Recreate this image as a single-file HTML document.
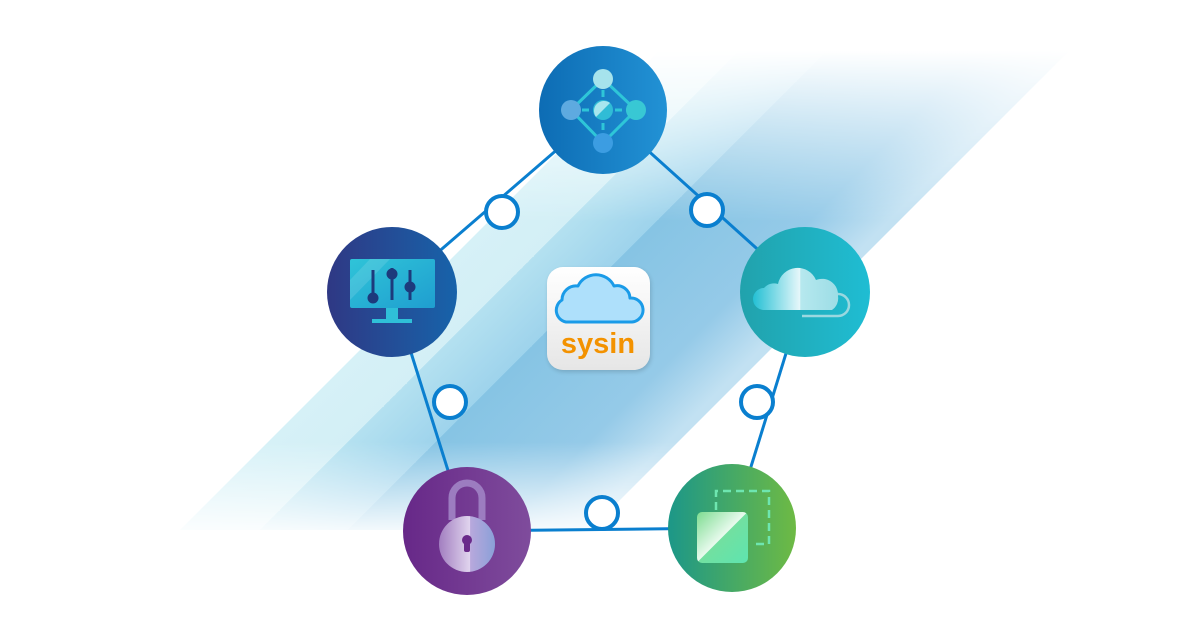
<!DOCTYPE html>
<html><head><meta charset="utf-8"><style>
html,body{margin:0;padding:0;background:#fff;}
svg{display:block;}
</style></head><body>
<svg width="1200" height="640" viewBox="0 0 1200 640" xmlns="http://www.w3.org/2000/svg">
<defs>
<linearGradient id="band" gradientUnits="userSpaceOnUse" x1="355" y1="355" x2="555" y2="555">
<stop offset="0" stop-color="#d6f1f7"/><stop offset="0.2" stop-color="#d3eff6"/>
<stop offset="0.2" stop-color="#b4e1f0"/><stop offset="0.42" stop-color="#9ed3ec"/>
<stop offset="0.42" stop-color="#86c4e4"/><stop offset="0.8" stop-color="#95cae8"/>
<stop offset="1" stop-color="#c2e1f2"/>
</linearGradient>
<linearGradient id="vfade" gradientUnits="userSpaceOnUse" x1="0" y1="50" x2="0" y2="540">
<stop offset="0" stop-color="#fff" stop-opacity="0"/>
<stop offset="0.35" stop-color="#fff" stop-opacity="1"/>
<stop offset="0.8" stop-color="#fff" stop-opacity="1"/>
<stop offset="1" stop-color="#fff" stop-opacity="0"/>
</linearGradient>
<mask id="m" maskUnits="userSpaceOnUse" x="0" y="0" width="1200" height="640"><rect x="0" y="50" width="1200" height="490" fill="url(#vfade)"/></mask>
<linearGradient id="gTop" x1="0" x2="1"><stop offset="0" stop-color="#0d6cb4"/><stop offset="1" stop-color="#2292d5"/></linearGradient>
<linearGradient id="gLeft" x1="0" x2="1"><stop offset="0" stop-color="#2f3884"/><stop offset="1" stop-color="#1763aa"/></linearGradient>
<linearGradient id="gRight" x1="0" x2="1"><stop offset="0" stop-color="#21a2ac"/><stop offset="1" stop-color="#1fbdd3"/></linearGradient>
<linearGradient id="gLock" x1="0" x2="1"><stop offset="0" stop-color="#672888"/><stop offset="1" stop-color="#7f4c9c"/></linearGradient>
<linearGradient id="gGreen" x1="0" x2="1"><stop offset="0" stop-color="#1c9788"/><stop offset="1" stop-color="#6eba44"/></linearGradient>
<linearGradient id="gIcon" x1="0" x2="0" y1="0" y2="1"><stop offset="0" stop-color="#ffffff"/><stop offset="1" stop-color="#e6e6e6"/></linearGradient>
<linearGradient id="gScreen" x1="0" y1="0" x2="1" y2="1"><stop offset="0" stop-color="#2fc4d8"/><stop offset="1" stop-color="#1f9ed0"/></linearGradient>
<linearGradient id="gCloud2" x1="0" y1="0" x2="1" y2="0"><stop offset="0" stop-color="#23c0d4"/><stop offset="0.55" stop-color="#e6f7fa"/><stop offset="0.56" stop-color="#b6e8ee"/><stop offset="1" stop-color="#9cdde6"/></linearGradient>
<linearGradient id="gLockB" x1="0" y1="0" x2="1" y2="0"><stop offset="0" stop-color="#a27ec0"/><stop offset="0.55" stop-color="#e0d4ee"/><stop offset="0.56" stop-color="#b8a8dc"/><stop offset="1" stop-color="#8aa0d8"/></linearGradient>
<linearGradient id="gSq" x1="0" y1="0" x2="1" y2="1"><stop offset="0" stop-color="#7ddc90"/><stop offset="0.49" stop-color="#e8faee"/><stop offset="0.5" stop-color="#72e0a0"/><stop offset="1" stop-color="#5ee4b0"/></linearGradient>
<filter id="sh" x="-20%" y="-20%" width="140%" height="140%"><feGaussianBlur stdDeviation="2"/></filter>
</defs>

<!-- background bands -->
<polygon points="180,530 720,-10 1130,-10 590,530" fill="url(#band)" mask="url(#m)"/>

<!-- connector lines -->
<g stroke="#0a7fcf" stroke-width="3" fill="none">
<line x1="603" y1="110" x2="392" y2="292"/>
<line x1="603" y1="110" x2="805" y2="292"/>
<line x1="392" y1="292" x2="467" y2="531"/>
<line x1="805" y1="292" x2="732" y2="528"/>
<line x1="467" y1="531" x2="732" y2="528"/>
</g>
<g fill="#fff" stroke="#0a7fcf" stroke-width="4">
<circle cx="502" cy="212" r="16"/>
<circle cx="707" cy="210" r="16"/>
<circle cx="450" cy="402" r="16"/>
<circle cx="757" cy="402" r="16"/>
<circle cx="602" cy="513" r="16"/>
</g>

<!-- top circle: network -->
<circle cx="603" cy="110" r="64" fill="url(#gTop)"/>
<g stroke="#2ec6d8" stroke-width="3" fill="none">
<line x1="603" y1="79" x2="571" y2="110"/><line x1="603" y1="79" x2="636" y2="110"/>
<line x1="571" y1="110" x2="603" y2="143"/><line x1="636" y1="110" x2="603" y2="143"/>
</g>
<g stroke="#2ec6d8" stroke-width="3" stroke-dasharray="7 4" fill="none">
<line x1="603" y1="79" x2="603" y2="143"/><line x1="571" y1="110" x2="636" y2="110"/>
</g>
<circle cx="603" cy="79" r="10" fill="#a6e3ec"/>
<circle cx="571" cy="110" r="10" fill="#5eaae0"/>
<circle cx="603" cy="110" r="10" fill="#30bcd6"/>
<path d="M596,117 L610,103 A10,10 0 0 0 596,117 Z" fill="#a8e6ee"/>
<circle cx="636" cy="110" r="10" fill="#38c8d4"/>
<circle cx="603" cy="143" r="10" fill="#3c9de2"/>

<!-- left circle: monitor -->
<circle cx="392" cy="292" r="65" fill="url(#gLeft)"/>
<rect x="350" y="259" width="85" height="49" rx="2" fill="url(#gScreen)"/>
<polygon points="350,280 370,259 390,259 350,300" fill="#ffffff" opacity="0.12"/>
<rect x="386" y="308" width="12" height="12" fill="#2fc0d8"/>
<rect x="372" y="319" width="40" height="4" fill="#2fc0d8"/>
<g stroke="#1d3a7c" stroke-width="3"><line x1="373" y1="270" x2="373" y2="298"/><line x1="392" y1="268" x2="392" y2="300"/><line x1="410" y1="270" x2="410" y2="300"/></g>
<g fill="#1d3a7c"><circle cx="373" cy="298" r="5.5"/><circle cx="392" cy="274" r="5.5"/><circle cx="410" cy="287" r="5.5"/></g>

<!-- right circle: cloud -->
<circle cx="805" cy="292" r="65" fill="url(#gRight)"/>
<path d="M802,316 h36 a11,11 0 0 0 0,-22 h-6" fill="none" stroke="#9ad8e0" stroke-width="2.5"/>
<path d="M764,310 a11,11 0 0 1 0,-22 a13,13 0 0 1 14,-4 a20,20 0 0 1 38,-4 a16,16 0 0 1 22,16 a14,14 0 0 1 -6,14 z" fill="url(#gCloud2)"/>

<!-- lock circle -->
<circle cx="467" cy="531" r="64" fill="url(#gLock)"/>
<path d="M452,520 v-22 a15,15 0 0 1 30,0 v22" fill="none" stroke="#9c7cc0" stroke-width="7"/>
<circle cx="467" cy="544" r="28" fill="url(#gLockB)"/>
<circle cx="467" cy="540" r="5" fill="#6a2a8a"/><rect x="464" y="540" width="6" height="12" rx="2" fill="#6a2a8a"/>

<!-- green circle -->
<circle cx="732" cy="528" r="64" fill="url(#gGreen)"/>
<path d="M716,510 v-19 h53 v53 h-16" fill="none" stroke="#6ee6b0" stroke-width="2.5" stroke-dasharray="8 5"/>
<rect x="697" y="512" width="51" height="51" rx="5" fill="url(#gSq)"/>

<!-- center icon -->
<rect x="548" y="269" width="103" height="103" rx="16" fill="#000" opacity="0.15" filter="url(#sh)"/>
<rect x="547" y="267" width="103" height="103" rx="16" fill="url(#gIcon)"/>
<path d="M566,322 a12,12 0 0 1 -4,-22 a14,14 0 0 1 16,-14 a20,20 0 0 1 36,0 a13,13 0 0 1 16,12 a12,12 0 0 1 2,24 z" fill="#aee0fb" stroke="#1a9be8" stroke-width="3" stroke-linejoin="round"/>
<text x="598" y="353" text-anchor="middle" font-family="Liberation Sans, DejaVu Sans, sans-serif" font-weight="bold" font-size="29" fill="#f39200">sysin</text>
</svg>
</body></html>
